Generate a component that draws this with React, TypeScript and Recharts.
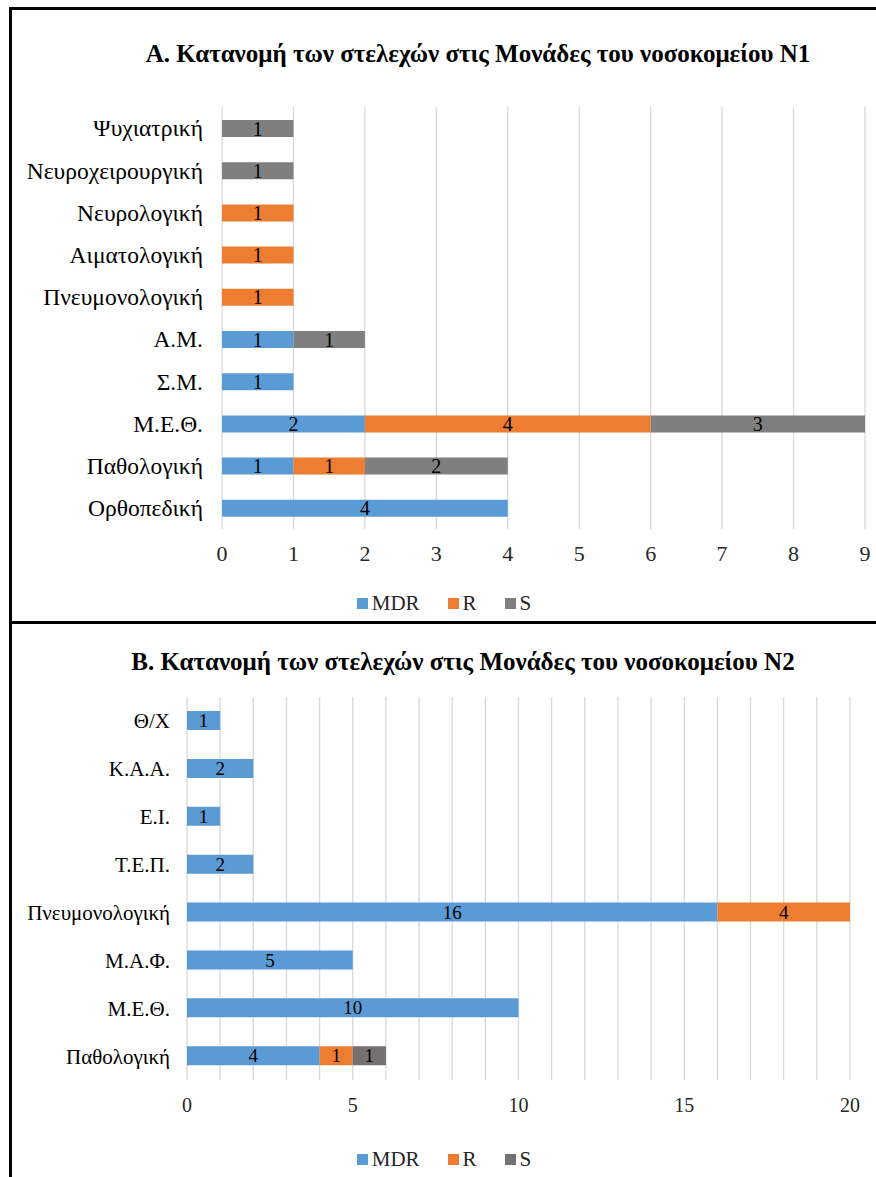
import React from 'react';
import { BarChart, Bar, XAxis, YAxis, CartesianGrid, LabelList } from 'recharts';

// Hospital N1 units (top to bottom)
const unitsN1 = ['Ψυχιατρική', 'Νευροχειρουργική', 'Νευρολογική', 'Αιματολογική', 'Πνευμονολογική', 'Α.Μ.', 'Σ.Μ.', 'Μ.Ε.Θ.', 'Παθολογική', 'Ορθοπεδική'];
const mdrN1 = [null, null, null, null, null, 1, 1, 2, 1, 4];
const rN1 = [null, null, 1, 1, 1, null, null, 4, 1, null];
const sN1 = [1, 1, null, null, null, 1, null, 3, 2, null];
const ticksN1 = [0, 1, 2, 3, 4, 5, 6, 7, 8, 9];

// Hospital N2 units (top to bottom)
const unitsN2 = ['Θ/Χ', 'Κ.Α.Α.', 'Ε.Ι.', 'Τ.Ε.Π.', 'Πνευμονολογική', 'Μ.Α.Φ.', 'Μ.Ε.Θ.', 'Παθολογική'];
const mdrN2 = [1, 2, 1, 2, 16, 5, 10, 4];
const rN2 = [null, null, null, null, 4, null, null, 1];
const sN2 = [null, null, null, null, null, null, null, 1];
const ticksN2 = [0, 1, 2, 3, 4, 5, 6, 7, 8, 9, 10, 11, 12, 13, 14, 15, 16, 17, 18, 19, 20];

const BLUE = '#5B9BD5';
const ORANGE = '#ED7D31';
const FONT = 'Liberation Serif, DejaVu Serif, serif';

const build = (names: string[], mdr: (number | null)[], r: (number | null)[], s: (number | null)[]) =>
  names.map((name, i) => ({ name, mdr: mdr[i], r: r[i], s: s[i] }));

const dataN1 = build(unitsN1, mdrN1, rN1, sN1);
const dataN2 = build(unitsN2, mdrN2, rN2, sN2);

const hideEmpty = (v: any) => (v ? v : '');

const Legend = ({ top, grey, fontSize }: { top: number; grey: string; fontSize: number }) => {
  const items = [
    { label: 'MDR', color: BLUE },
    { label: 'R', color: ORANGE },
    { label: 'S', color: grey },
  ];
  return (
    <div style={{ position: 'absolute', left: 6, width: 876, top, display: 'flex', justifyContent: 'center', gap: 28, fontSize, color: '#262626' }}>
      {items.map((it) => (
        <div key={it.label} style={{ display: 'flex', alignItems: 'center' }}>
          <div style={{ width: 11, height: 11, background: it.color, marginRight: 4 }} />
          <span>{it.label}</span>
        </div>
      ))}
    </div>
  );
};

const App: React.FC = () => {
  const greyA = '#7F7F7F';
  const greyB = '#767171';
  return (
    <div style={{ position: 'fixed', left: 0, top: 0, width: 876, height: 1177, overflow: 'hidden', background: '#fff', fontFamily: FONT }}>
      {/* frame */}
      <div style={{ position: 'absolute', left: 9, top: 7, width: 867, height: 3, background: '#000' }} />
      <div style={{ position: 'absolute', left: 9, top: 7, width: 3, height: 1170, background: '#000' }} />
      <div style={{ position: 'absolute', left: 9, top: 621, width: 867, height: 3, background: '#000' }} />

      {/* A. Hospital N1 */}
      <div style={{ position: 'absolute', left: 78, width: 800, top: 40, textAlign: 'center', fontWeight: 'bold', fontSize: 25 }}>
        Α. Κατανομή των στελεχών στις Μονάδες του νοσοκομείου Ν1
      </div>
      <div style={{ position: 'absolute', left: 10, top: 80 }}>
        <BarChart width={866} height={500} data={dataN1} layout="vertical" margin={{ top: 27, right: 11, bottom: 11, left: 0 }} barSize={17}>
          <CartesianGrid horizontal={false} stroke="#d9d9d9" strokeWidth={1.3} />
          <XAxis type="number" domain={[0, 9]} ticks={ticksN1} axisLine={false} tickLine={false} tickMargin={10} height={40}
            tick={{ fontSize: 22, fill: '#262626', fontFamily: FONT }} />
          <YAxis type="category" dataKey="name" width={212} axisLine={false} tickLine={false} tickMargin={13}
            tick={{ fontSize: 23.5, fill: '#000', fontFamily: FONT }} />
          <Bar dataKey="mdr" stackId="a" fill={BLUE} isAnimationActive={false}>
            <LabelList dataKey="mdr" position="center" formatter={hideEmpty} fill="#000" fontSize={20} fontFamily={FONT} />
          </Bar>
          <Bar dataKey="r" stackId="a" fill={ORANGE} isAnimationActive={false}>
            <LabelList dataKey="r" position="center" formatter={hideEmpty} fill="#000" fontSize={20} fontFamily={FONT} />
          </Bar>
          <Bar dataKey="s" stackId="a" fill={greyA} isAnimationActive={false}>
            <LabelList dataKey="s" position="center" formatter={hideEmpty} fill="#000" fontSize={20} fontFamily={FONT} />
          </Bar>
        </BarChart>
      </div>
      <Legend top={591} grey={greyA} fontSize={21} />

      {/* B. Hospital N2 */}
      <div style={{ position: 'absolute', left: 63, width: 800, top: 648, textAlign: 'center', fontWeight: 'bold', fontSize: 25 }}>
        Β. Κατανομή των στελεχών στις Μονάδες του νοσοκομείου Ν2
      </div>
      <div style={{ position: 'absolute', left: 10, top: 680 }}>
        <BarChart width={866} height={446} data={dataN2} layout="vertical" margin={{ top: 17, right: 26, bottom: 6, left: 0 }} barSize={19}>
          <CartesianGrid horizontal={false} stroke="#d9d9d9" strokeWidth={1.3} />
          <XAxis type="number" domain={[0, 20]} ticks={ticksN2} interval={0} axisLine={false} tickLine={false} tickMargin={12} height={40}
            tickFormatter={(v: number) => (v % 5 === 0 ? String(v) : '')}
            tick={{ fontSize: 20, fill: '#262626', fontFamily: FONT }} />
          <YAxis type="category" dataKey="name" width={177} axisLine={false} tickLine={false} tickMargin={11}
            tick={{ fontSize: 21, fill: '#000', fontFamily: FONT }} />
          <Bar dataKey="mdr" stackId="b" fill={BLUE} isAnimationActive={false}>
            <LabelList dataKey="mdr" position="center" formatter={hideEmpty} fill="#000" fontSize={19} fontFamily={FONT} />
          </Bar>
          <Bar dataKey="r" stackId="b" fill={ORANGE} isAnimationActive={false}>
            <LabelList dataKey="r" position="center" formatter={hideEmpty} fill="#000" fontSize={19} fontFamily={FONT} />
          </Bar>
          <Bar dataKey="s" stackId="b" fill={greyB} isAnimationActive={false}>
            <LabelList dataKey="s" position="center" formatter={hideEmpty} fill="#000" fontSize={19} fontFamily={FONT} />
          </Bar>
        </BarChart>
      </div>
      <Legend top={1147} grey={greyB} fontSize={21} />
    </div>
  );
};

export default App;
